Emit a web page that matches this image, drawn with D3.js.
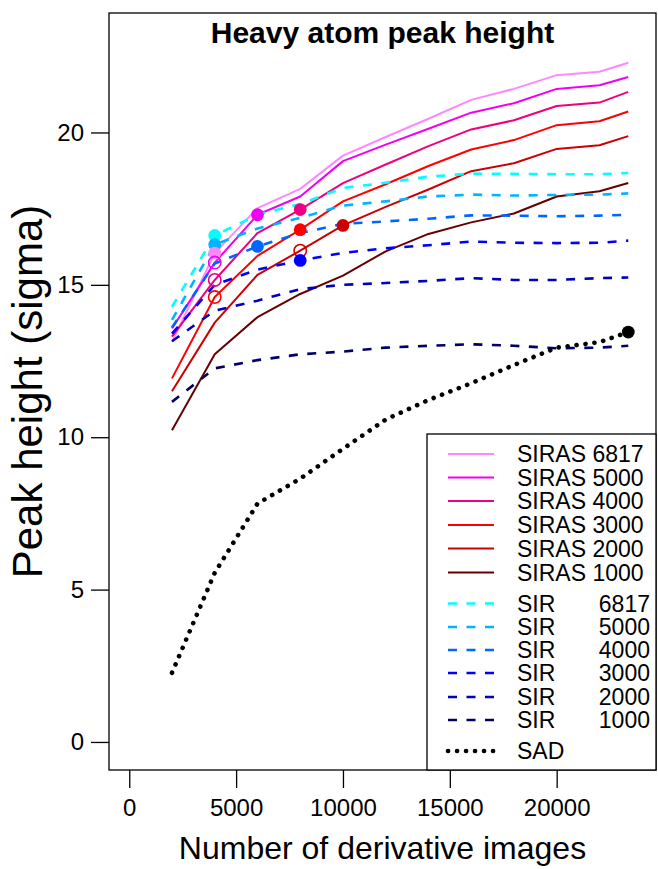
<!DOCTYPE html>
<html>
<head>
<meta charset="utf-8">
<script src="https://cdn.jsdelivr.net/npm/d3@7/dist/d3.min.js"></script>
<style>
  html, body { margin: 0; padding: 0; background: #fff; }
  svg { display: block; font-family: "Liberation Sans", Arial, Helvetica, sans-serif; }
</style>
</head>
<body>
<svg id="chart" width="658" height="869"></svg>
<script>
// ---------------- data ----------------
const images = [2000, 4000, 6000, 8000, 10000, 12000, 14000, 16000, 18000, 20000, 22000, 23350];

const sirasNames = ["SIRAS 6817", "SIRAS 5000", "SIRAS 4000", "SIRAS 3000", "SIRAS 2000", "SIRAS 1000"];
const siras6817 = [13.13, 16.04, 17.52, 18.15, 19.24, 19.85, 20.45, 21.07, 21.43, 21.88, 21.99, 22.29];
const siras5000 = [13.57, 15.73, 17.30, 17.90, 19.06, 19.60, 20.12, 20.65, 20.96, 21.43, 21.55, 21.82];
const siras4000 = [13.30, 15.16, 16.70, 17.47, 18.34, 18.95, 19.55, 20.10, 20.40, 20.87, 20.98, 21.33];
const siras3000 = [11.93, 14.60, 15.95, 16.81, 17.74, 18.30, 18.90, 19.44, 19.75, 20.24, 20.37, 20.69];
const siras2000 = [11.51, 13.76, 15.33, 16.12, 16.95, 17.56, 18.13, 18.73, 18.99, 19.46, 19.58, 19.88];
const siras1000 = [10.23, 12.72, 13.94, 14.70, 15.30, 16.10, 16.67, 17.05, 17.34, 17.90, 18.07, 18.34];

const sirNames = ["SIR 6817", "SIR 5000", "SIR 4000", "SIR 3000", "SIR 2000", "SIR 1000"];
const sir6817 = [14.28, 16.62, 17.30, 17.65, 18.18, 18.35, 18.55, 18.65, 18.64, 18.63, 18.63, 18.67];
const sir5000 = [13.85, 16.32, 16.85, 17.20, 17.60, 17.74, 17.90, 17.96, 17.93, 17.95, 17.96, 18.00];
const sir4000 = [13.60, 15.70, 16.26, 16.70, 17.00, 17.08, 17.17, 17.28, 17.27, 17.25, 17.27, 17.30];
const sir3000 = [13.40, 15.00, 15.50, 15.80, 16.05, 16.20, 16.30, 16.42, 16.38, 16.37, 16.38, 16.45];
const sir2000 = [13.15, 14.15, 14.48, 14.86, 15.00, 15.06, 15.13, 15.22, 15.16, 15.16, 15.22, 15.24];
const sir1000 = [11.16, 12.26, 12.53, 12.72, 12.81, 12.94, 13.00, 13.05, 13.00, 12.92, 12.94, 13.00];

const sadName = "SAD";
const sad = [2.27, 5.55, 7.82, 8.64, 9.62, 10.58, 11.22, 11.77, 12.37, 12.94, 13.12, 13.45];

// highlighted points: series, index into images, filled?
const markerSeries = ["SIR 6817", "SIR 5000", "SIRAS 6817", "SIRAS 5000", "SIRAS 4000", "SIRAS 3000",
                      "SIRAS 5000", "SIR 4000",
                      "SIRAS 4000", "SIRAS 3000", "SIRAS 2000", "SIR 3000",
                      "SIRAS 2000", "SAD"];
const markerIndex  = [1, 1, 1, 1, 1, 1, 2, 2, 3, 3, 3, 3, 4, 11];
const markerFilled = [true, true, true, false, false, false, true, true, true, true, false, true, true, true];

const xTicks = [0, 5000, 10000, 15000, 20000];
const yTicks = [0, 5, 10, 15, 20];

const titleText = "Heavy atom peak height";
const xTitle = "Number of derivative images";
const yTitle = "Peak height (sigma)";

// ---------------- styles ----------------
const sirasColors = ["#FF88FF", "#F000F0", "#EE0080", "#FF0000", "#CC0000", "#660000"];
const sirColors   = ["#00FFFF", "#00B4FF", "#0066FF", "#0000FF", "#0000C0", "#000066"];
const sadColor = "#000000";

const seriesList = [];
[siras6817, siras5000, siras4000, siras3000, siras2000, siras1000].forEach((v, i) =>
  seriesList.push({ name: sirasNames[i], values: v, color: sirasColors[i], kind: "siras" }));
[sir6817, sir5000, sir4000, sir3000, sir2000, sir1000].forEach((v, i) =>
  seriesList.push({ name: sirNames[i], values: v, color: sirColors[i], kind: "sir" }));
seriesList.push({ name: sadName, values: sad, color: sadColor, kind: "sad" });
const byName = {};
seriesList.forEach(s => byName[s.name] = s);

// ---------------- layout ----------------
const plot = { left: 109, right: 656, top: 13, bottom: 770 };
const xlim = [0, 23700], ylim = [0, 23];
const xext = (xlim[1] - xlim[0]) * 0.04, yext = (ylim[1] - ylim[0]) * 0.04;

const x = d3.scaleLinear().domain([xlim[0] - xext, xlim[1] + xext]).range([plot.left, plot.right]);
const y = d3.scaleLinear().domain([ylim[0] - yext, ylim[1] + yext]).range([plot.bottom, plot.top]);

const svg = d3.select("#chart");

function styleFor(s, sel) {
  sel.attr("fill", "none").attr("stroke", s.color);
  if (s.kind === "siras") sel.attr("stroke-width", 2);
  else if (s.kind === "sir") sel.attr("stroke-width", 2.6).attr("stroke-dasharray", "9,9.5");
  else sel.attr("stroke-width", 4.6).attr("stroke-dasharray", "0.1,8.9").attr("stroke-linecap", "round");
  return sel;
}

const line = d3.line().x((d, i) => x(images[i])).y(d => y(d));

// draw lines
const drawOrder = seriesList.filter(s => s.kind === "siras")
  .concat(seriesList.filter(s => s.kind === "sir"))
  .concat(seriesList.filter(s => s.kind === "sad"));
drawOrder.forEach(s => {
  styleFor(s, svg.append("path").datum(s.values).attr("d", line).attr("stroke-linejoin", "round"));
});

// markers
markerSeries.forEach((name, k) => {
  const s = byName[name];
  const i = markerIndex[k];
  const c = svg.append("circle")
    .attr("cx", x(images[i])).attr("cy", y(s.values[i])).attr("r", markerFilled[k] ? 6.4 : 6.2);
  if (markerFilled[k]) c.attr("fill", s.color).attr("stroke", "none");
  else c.attr("fill", "none").attr("stroke", s.color).attr("stroke-width", 1.6);
});

// box
svg.append("rect").attr("x", plot.left).attr("y", plot.top)
  .attr("width", plot.right - plot.left).attr("height", plot.bottom - plot.top)
  .attr("fill", "none").attr("stroke", "#000").attr("stroke-width", 1.3);

// axes
const xAxis = d3.axisBottom(x).tickValues(xTicks).tickSize(18).tickSizeOuter(0).tickPadding(11)
  .tickFormat(d3.format("d"));
const gx = svg.append("g").attr("transform", `translate(0,${plot.bottom})`).call(xAxis);
gx.select(".domain").remove();
gx.selectAll("line").attr("stroke", "#000").attr("stroke-width", 1.3);
gx.selectAll("text").attr("font-size", 24).attr("fill", "#000")
  .attr("font-family", "Liberation Sans, Arial, sans-serif");

const yAxis = d3.axisLeft(y).tickValues(yTicks).tickSize(18).tickSizeOuter(0).tickPadding(7)
  .tickFormat(d3.format("d"));
const gy = svg.append("g").attr("transform", `translate(${plot.left},0)`).call(yAxis);
gy.select(".domain").remove();
gy.selectAll("line").attr("stroke", "#000").attr("stroke-width", 1.3);
gy.selectAll("text").attr("font-size", 24).attr("fill", "#000")
  .attr("font-family", "Liberation Sans, Arial, sans-serif");

// titles
svg.append("text").attr("x", (plot.left + plot.right) / 2).attr("y", 43)
  .attr("text-anchor", "middle").attr("font-weight", "bold").attr("font-size", 30)
  .text(titleText);
svg.append("text").attr("x", (plot.left + plot.right) / 2).attr("y", 859)
  .attr("text-anchor", "middle").attr("font-size", 32).text(xTitle);
svg.append("text").attr("transform", `translate(42,${(plot.top + plot.bottom) / 2}) rotate(-90)`)
  .attr("text-anchor", "middle").attr("font-size", 42).text(yTitle);

// legend
const leg = { left: 427, top: 434 };
svg.append("rect").attr("x", leg.left).attr("y", leg.top)
  .attr("width", plot.right - leg.left).attr("height", plot.bottom - leg.top)
  .attr("fill", "#fff").attr("stroke", "#000").attr("stroke-width", 1.3);

const legendRows = [454, 477.5, 501, 525, 548.5, 572.5, 603.5, 627, 650, 673, 697, 720, 751];
seriesList.forEach((s, i) => {
  const yy = legendRows[i];
  styleFor(s, svg.append("line").attr("x1", 448).attr("x2", 494).attr("y1", yy).attr("y2", yy));
  const parts = s.name.split(" ");
  if (s.kind === "sir") {
    svg.append("text").attr("x", 517).attr("y", yy + 8).attr("font-size", 23).attr("fill", "#000").text(parts[0]);
    svg.append("text").attr("x", 650).attr("y", yy + 8).attr("text-anchor", "end")
      .attr("font-size", 23).attr("fill", "#000").text(parts[1]);
  } else {
    svg.append("text").attr("x", 517).attr("y", yy + 8).attr("font-size", 23).attr("fill", "#000").text(s.name);
  }
});
</script>
</body>
</html>
